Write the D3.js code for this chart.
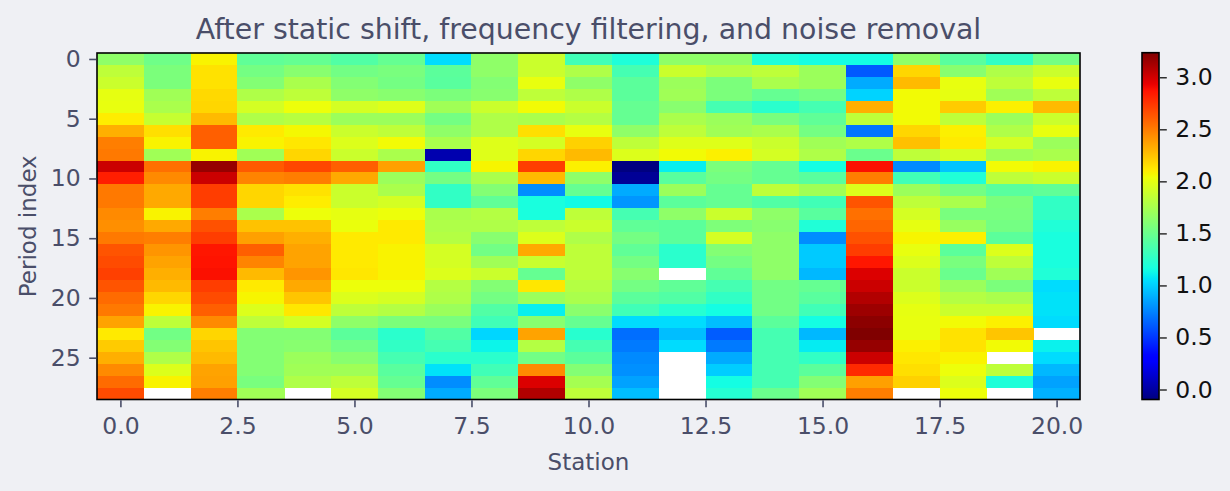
<!DOCTYPE html>
<html>
<head>
<meta charset="utf-8">
<script src="https://cdn.jsdelivr.net/npm/d3@7"></script>
<style>
html,body{margin:0;padding:0;background:#eff0f4;}
svg{display:block;}
text{font-family:"DejaVu Sans",sans-serif;}
</style>
</head>
<body>
<svg id="chart" width="1230" height="491"></svg>
<script>
// ---- data ----
const stations = [0,1,2,3,4,5,6,7,8,9,10,11,12,13,14,15,16,17,18,19,20];
const periods = [0,1,2,3,4,5,6,7,8,9,10,11,12,13,14,15,16,17,18,19,20,21,22,23,24,25,26,27,28];
const xTickValues = [0.0,2.5,5.0,7.5,10.0,12.5,15.0,17.5,20.0];
const yTickValues = [0,5,10,15,20,25];
const cbarTickValues = [0.0,0.5,1.0,1.5,2.0,2.5,3.0];
const N = NaN;
// values[period][station]
const values = [
[1.65,1.52,2.08,1.46,1.48,1.40,1.48,1.04,1.65,1.89,1.33,1.19,1.65,1.65,1.19,1.15,1.15,1.65,1.43,1.27,1.54],
[1.84,1.57,2.14,1.54,1.62,1.53,1.56,1.44,1.65,1.89,1.78,1.35,1.89,1.80,1.84,1.70,0.61,2.18,1.62,1.78,1.89],
[1.89,1.57,2.14,1.60,1.76,1.60,1.54,1.43,1.60,2.01,1.65,1.44,1.70,1.57,1.76,1.70,0.88,2.28,2.01,1.84,2.01],
[2.00,1.72,2.17,1.78,1.84,1.65,1.62,1.57,1.62,1.84,1.78,1.44,1.72,1.57,1.48,1.54,1.01,2.05,2.00,1.72,1.84],
[2.01,1.76,2.18,1.93,2.03,1.93,1.97,1.72,1.89,2.05,1.89,1.48,1.62,1.35,1.24,1.35,2.32,2.05,2.22,2.09,2.28],
[2.10,1.87,2.28,1.78,1.81,1.70,1.70,1.54,1.78,1.76,1.80,1.48,1.76,1.70,1.56,1.46,1.84,2.05,1.84,1.70,1.89],
[2.32,2.15,2.60,2.11,2.06,1.89,1.84,1.65,1.78,2.15,2.01,1.65,1.84,1.72,1.76,1.54,0.70,2.18,2.09,1.78,2.01],
[2.49,2.08,2.60,2.08,2.12,1.96,2.05,1.76,1.97,1.93,2.20,1.84,1.97,1.97,1.89,1.72,1.78,2.26,2.11,1.93,1.70],
[2.51,1.72,2.08,1.72,2.18,1.89,1.76,0.04,1.97,2.18,2.28,1.96,2.05,2.09,1.93,1.78,1.50,1.84,1.93,1.72,1.76],
[3.02,2.54,3.17,2.62,2.69,2.60,2.37,1.27,2.07,2.72,2.09,-0.096,1.10,1.57,1.48,1.15,2.88,0.77,0.96,2.05,2.08],
[2.83,2.45,3.02,2.47,2.49,2.34,1.70,1.54,1.76,2.28,1.65,-0.03,1.43,1.54,1.48,1.43,2.49,1.33,1.20,1.84,1.89],
[2.51,2.34,2.72,2.18,2.14,1.89,1.76,1.27,1.60,0.78,1.48,0.88,1.70,1.48,1.84,1.72,1.96,1.70,1.54,1.43,1.46],
[2.51,2.34,2.72,2.18,2.10,1.89,1.93,1.27,1.46,1.17,1.14,0.81,1.44,1.48,1.40,1.33,2.64,1.84,1.76,1.57,1.27],
[2.45,2.08,2.49,1.76,2.03,2.00,2.03,1.76,1.80,1.17,1.84,1.35,1.65,1.89,1.65,1.43,2.54,1.93,1.56,1.56,1.27],
[2.43,2.34,2.65,2.25,2.25,2.02,2.11,1.78,1.78,1.84,1.89,1.46,1.44,1.58,1.62,1.20,2.58,2.00,1.68,1.54,1.20],
[2.51,2.49,2.72,2.37,2.32,2.11,2.11,1.80,1.62,1.96,1.78,1.54,1.44,1.93,1.65,0.78,2.65,2.07,2.09,1.44,1.17],
[2.64,2.41,2.86,2.60,2.36,2.11,2.08,1.93,1.53,2.34,1.84,1.46,1.24,1.60,1.65,0.98,2.72,2.01,1.44,1.96,1.17],
[2.67,2.36,2.87,2.47,2.36,2.11,2.08,1.93,1.72,1.88,1.84,1.54,1.24,1.54,1.65,0.98,2.86,1.96,1.56,1.84,1.17],
[2.71,2.32,2.88,2.28,2.41,2.12,2.08,1.96,1.89,1.48,1.84,1.62,N,1.46,1.65,0.92,2.97,1.89,1.50,1.72,1.20],
[2.64,2.28,2.72,2.11,2.34,2.03,2.03,1.80,1.60,2.12,1.80,1.54,1.46,1.35,1.53,1.48,3.02,1.89,1.70,1.57,1.04],
[2.56,2.18,2.67,2.07,2.24,1.96,1.93,1.78,1.54,1.70,1.76,1.44,1.40,1.27,1.53,1.43,3.09,1.96,1.80,1.76,1.06],
[2.51,2.08,2.60,1.96,2.12,1.84,1.80,1.70,1.40,1.10,1.63,1.33,1.22,1.15,1.53,1.33,3.15,2.00,1.89,1.89,1.06],
[2.36,1.84,2.45,1.84,1.93,1.65,1.57,1.56,1.33,1.62,1.48,1.04,1.04,0.94,1.44,1.15,3.20,2.01,2.05,2.09,1.04],
[2.11,1.53,2.18,1.60,1.60,1.44,1.24,1.40,1.02,2.36,1.23,0.68,0.94,0.62,1.35,0.92,3.236,2.01,2.14,2.24,N],
[2.22,1.60,2.24,1.60,1.62,1.53,1.27,1.35,1.12,1.80,1.35,0.72,1.04,0.72,1.35,1.09,3.17,2.09,2.14,2.05,1.11],
[2.32,1.78,2.28,1.60,1.70,1.62,1.35,1.24,1.24,1.53,1.44,0.77,N,0.88,1.35,1.27,3.02,2.12,2.08,N,1.04],
[2.45,1.96,2.36,1.60,1.72,1.72,1.43,1.06,1.33,2.45,1.60,0.79,N,0.99,1.35,1.44,2.79,2.15,2.03,1.84,0.92],
[2.56,2.08,2.37,1.56,1.78,1.84,1.48,0.78,1.46,2.97,1.74,0.85,N,1.15,1.35,1.60,2.37,2.20,1.96,1.19,0.85],
[2.67,N,2.49,1.72,N,1.93,1.60,0.88,1.57,3.09,1.84,0.94,N,1.22,1.50,1.72,2.49,N,2.03,N,0.90]
];
const titleText = "After static shift, frequency filtering, and noise removal";
const xLabel = "Station";
const yLabel = "Period index";

// ---- jet colormap (matplotlib) ----
function interpSeg(seg, t){
  for(let i=1;i<seg.length;i++){
    if(t<=seg[i][0]){
      const a=seg[i-1], b=seg[i];
      return a[1]+(b[1]-a[1])*(t-a[0])/(b[0]-a[0]);
    }
  }
  return seg[seg.length-1][1];
}
const jetR=[[0,0],[0.35,0],[0.66,1],[0.89,1],[1,0.5]];
const jetG=[[0,0],[0.125,0],[0.375,1],[0.64,1],[0.91,0],[1,0]];
const jetB=[[0,0.5],[0.11,1],[0.34,1],[0.65,0],[1,0]];
function jet(t){
  t=Math.max(0,Math.min(1,t));
  return d3.rgb(255*interpSeg(jetR,t),255*interpSeg(jetG,t),255*interpSeg(jetB,t)).formatHex();
}

// ---- layout ----
const svg = d3.select("#chart");
const textColor = "#4a4e69";
const plot = {left:97, right:1080, top:53, bottom:399.5};
const cbar = {left:1142, right:1159, top:52.7, bottom:399.5};
const tickFont = "23.5px";

const flat = values.flat().filter(v=>!isNaN(v));
const [vmin, vmax] = d3.extent(flat);
const color = d3.scaleSequential(jet).domain([vmin, vmax]);

const x = d3.scaleBand().domain(stations).range([plot.left, plot.right]).padding(0);
const y = d3.scaleBand().domain(periods).range([plot.top, plot.bottom]).padding(0);
const xLin = d3.scaleLinear().domain([-0.5, stations.length-0.5]).range([plot.left, plot.right]);
const yLin = d3.scaleLinear().domain([-0.5, periods.length-0.5]).range([plot.top, plot.bottom]);

// axes background
svg.append("rect").attr("x",plot.left).attr("y",plot.top)
  .attr("width",plot.right-plot.left).attr("height",plot.bottom-plot.top).attr("fill","#ffffff");

// cells
const cells = [];
values.forEach((row,i)=>row.forEach((v,j)=>cells.push({p:periods[i], s:stations[j], v})));
svg.append("g").selectAll("rect").data(cells.filter(d=>!isNaN(d.v))).join("rect")
  .attr("x",d=>x(d.s)).attr("y",d=>y(d.p))
  .attr("width",x.bandwidth()+0.4).attr("height",y.bandwidth()+0.4)
  .attr("fill",d=>color(d.v)).attr("shape-rendering","crispEdges");

// frame
svg.append("rect").attr("x",plot.left).attr("y",plot.top)
  .attr("width",plot.right-plot.left).attr("height",plot.bottom-plot.top)
  .attr("fill","none").attr("stroke","#000").attr("stroke-width",1.6);

// x axis
const xAxis = svg.append("g").attr("transform",`translate(0,${plot.bottom+0.8})`)
  .call(d3.axisBottom(xLin).tickValues(xTickValues).tickFormat(d3.format(".1f")).tickSize(7).tickPadding(10.5));
// y axis
const yAxis = svg.append("g").attr("transform",`translate(${plot.left-0.8},0)`)
  .call(d3.axisLeft(yLin).tickValues(yTickValues).tickFormat(d3.format("d")).tickSize(7).tickPadding(8.5));
[xAxis,yAxis].forEach(g=>{
  g.select(".domain").remove();
  g.selectAll(".tick line").attr("stroke",textColor).attr("stroke-width",1.6);
  g.selectAll(".tick text").attr("fill",textColor).style("font-size",tickFont).style("font-family","DejaVu Sans");
});

// labels
svg.append("text").attr("x",(plot.left+plot.right)/2).attr("y",469.5)
  .attr("text-anchor","middle").attr("fill",textColor).style("font-size","23px").text(xLabel);
svg.append("text").attr("transform",`translate(35.5,${(plot.top+plot.bottom)/2}) rotate(-90)`)
  .attr("text-anchor","middle").attr("fill",textColor).style("font-size","23px").text(yLabel);
svg.append("text").attr("x",(plot.left+plot.right)/2).attr("y",39)
  .attr("text-anchor","middle").attr("fill",textColor).style("font-size","28.4px").text(titleText);

// colorbar
const cy = d3.scaleLinear().domain([vmin, vmax]).range([cbar.bottom, cbar.top]);
const defs = svg.append("defs");
const grad = defs.append("linearGradient").attr("id","jetgrad").attr("x1","0").attr("y1","1").attr("x2","0").attr("y2","0");
const stops = d3.range(0,1.0001,0.01);
grad.selectAll("stop").data(stops).join("stop")
  .attr("offset",d=>d).attr("stop-color",d=>jet(d));
svg.append("rect").attr("x",cbar.left).attr("y",cbar.top)
  .attr("width",cbar.right-cbar.left).attr("height",cbar.bottom-cbar.top)
  .attr("fill","url(#jetgrad)").attr("stroke","#000").attr("stroke-width",1.6);
const cAxis = svg.append("g").attr("transform",`translate(${cbar.right+0.8},0)`)
  .call(d3.axisRight(cy).tickValues(cbarTickValues).tickFormat(d3.format(".1f")).tickSize(7).tickPadding(8.5));
cAxis.select(".domain").remove();
cAxis.selectAll(".tick line").attr("stroke","#222").attr("stroke-width",1.4);
cAxis.selectAll(".tick text").attr("fill","#111").style("font-size",tickFont).style("font-family","DejaVu Sans");
</script>
</body>
</html>
